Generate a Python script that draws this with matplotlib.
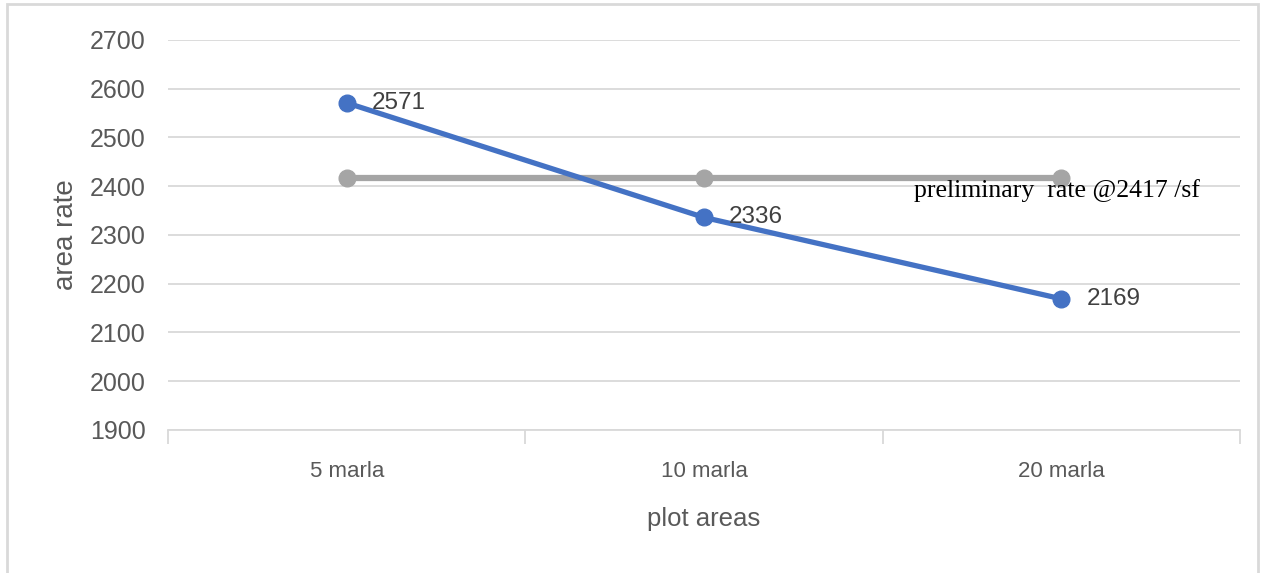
import matplotlib
matplotlib.use("Agg")
import matplotlib.pyplot as plt
from matplotlib.patches import Rectangle

# chart data
categories = ["5 marla", "10 marla", "20 marla"]
area_rate = [2571, 2336, 2169]
preliminary_rate = [2417, 2417, 2417]
preliminary_label = "preliminary  rate @2417 /sf"
y_ticks = [1900, 2000, 2100, 2200, 2300, 2400, 2500, 2600, 2700]

BLUE = "#4472C4"
GRAY = "#A5A5A5"
TEXT = "#595959"
GRID = "#D9D9D9"

plt.rcParams["font.family"] = ["Liberation Sans", "DejaVu Sans"]

fig = plt.figure(figsize=(12.7, 5.73), dpi=100)
ax = fig.add_axes([0.1323, 0.2496, 0.8441, 0.6806])

x = list(range(len(categories)))

ax.plot(x, preliminary_rate, color=GRAY, lw=4.5, marker="o", ms=12,
        solid_capstyle="round", zorder=3)
ax.plot(x, area_rate, color=BLUE, lw=3.8, marker="o", ms=12,
        solid_capstyle="round", zorder=4)

for xi, v in zip(x, area_rate):
    ax.annotate(str(v), (xi, v), xytext=(18, 0), textcoords="offset points",
                ha="left", va="center", fontsize=17.5, color="#404040", zorder=5)

ax.annotate(preliminary_label, (x[-1], preliminary_rate[-1]), xytext=(-3, -9),
            textcoords="offset points", ha="center", va="center",
            fontsize=18.5, color="black", family=["Liberation Serif", "DejaVu Serif"],
            zorder=5)

ax.set_xlim(-0.5, len(categories) - 0.5)
ax.set_ylim(y_ticks[0], y_ticks[-1])
ax.set_yticks(y_ticks)
ax.set_xticks(x)
ax.set_xticklabels(categories)
ax.set_xticks([i - 0.5 for i in range(len(categories) + 1)], minor=True)

ax.grid(axis="y", color=GRID, lw=1.3, zorder=0)
ax.set_axisbelow(True)
for side in ("top", "right", "left"):
    ax.spines[side].set_visible(False)
ax.spines["bottom"].set_color(GRID)
ax.spines["bottom"].set_linewidth(1.3)

ax.tick_params(axis="y", length=0, labelsize=18, labelcolor=TEXT, pad=16)
ax.tick_params(axis="x", which="major", length=0, labelsize=16,
               labelcolor=TEXT, pad=22)
ax.tick_params(axis="x", which="minor", length=10, width=1.3, color=GRID)

ax.set_xlabel("plot areas", fontsize=18.5, color=TEXT, labelpad=18)
ax.set_ylabel("area rate", fontsize=20, color=TEXT, labelpad=8)

fig.patches.append(Rectangle((7 / 1270, -0.05), 1251 / 1270, 1.0 - 4 / 573 + 0.05,
                             transform=fig.transFigure, fill=False,
                             edgecolor=GRID, lw=2, zorder=0))

fig.savefig("out.png", dpi=100, facecolor="white")
